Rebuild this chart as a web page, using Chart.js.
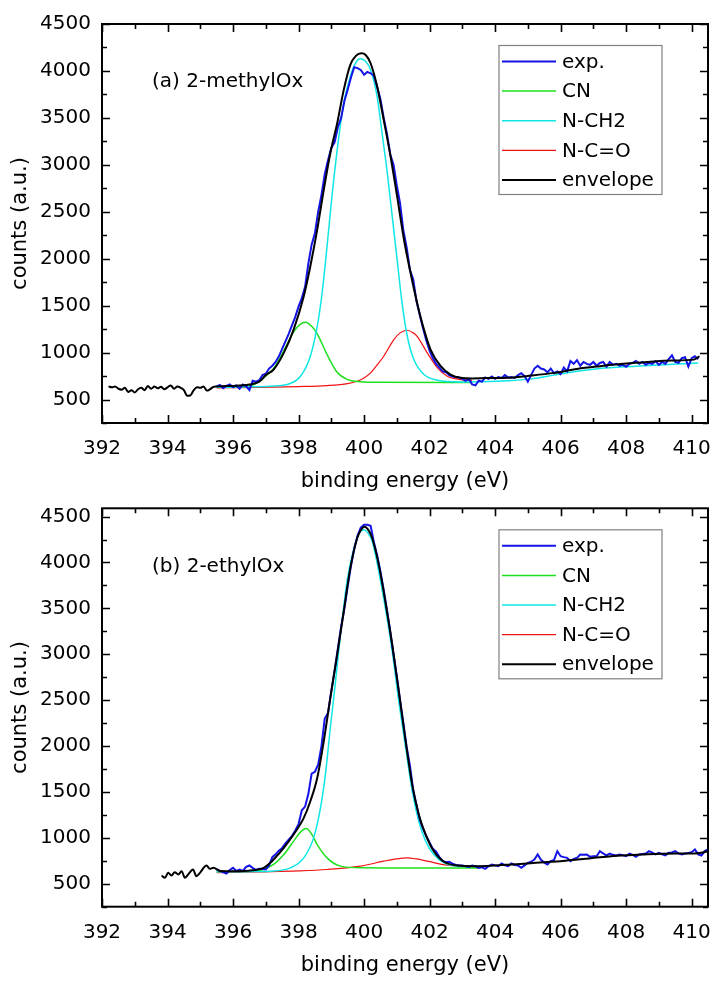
<!DOCTYPE html>
<html>
<head>
<meta charset="utf-8">
<script src="https://cdn.jsdelivr.net/npm/chart.js@4.4.0/dist/chart.umd.min.js"></script>
<style>
html,body{margin:0;padding:0;background:#fff;}
#wrap{width:723px;height:989px;position:relative;overflow:hidden;}
canvas{display:block;}
</style>
</head>
<body>
<div id="wrap">
<canvas id="cA" width="723" height="494" style="width:723px;height:494px"></canvas>
<canvas id="cB" width="723" height="495" style="width:723px;height:495px"></canvas>
</div>
<script>
// ---------- axis ticks ----------
const xTicks = [392, 394, 396, 398, 400, 402, 404, 406, 408, 410];
const xMinorTicks = [393, 395, 397, 399, 401, 403, 405, 407, 409];
const yTicks = [500, 1000, 1500, 2000, 2500, 3000, 3500, 4000, 4500];
const yMinorTicks = [250, 750, 1250, 1750, 2250, 2750, 3250, 3750, 4250];
const legendLabels = ['exp.', 'CN', 'N-CH2', 'N-C=O', 'envelope'];
const panelLabels = ['(a) 2-methylOx', '(b) 2-ethylOx'];

// ---------- panel (a) 2-methylOx ----------
const expA_start = 395.5, expA_step = 0.1;
const expA_counts = [
  640,655,620,645,660,630,650,615,660,640,
  600,700,690,705,760,775,830,860,900,960,
  1040,1120,1200,1290,1380,1490,1580,1700,1950,2150,
  2270,2500,2680,2900,3050,3180,3240,3400,3500,3680,
  3800,3930,4040,4030,4010,3960,3990,3975,3950,3830,
  3700,3500,3330,3110,3000,2780,2590,2300,2120,1880,
  1780,1550,1400,1260,1130,1020,940,880,840,800,
  790,760,745,740,735,720,700,720,660,650,
  700,690,735,720,745,720,740,730,760,735,
  740,730,760,780,750,690,760,830,860,830,
  820,790,830,780,800,770,840,800,910,880,
  920,860,900,880,870,900,860,890,900,850,
  900,870,880,860,870,850,880,890,910,880,
  900,870,890,880,910,870,900,880,930,970,
  900,890,940,950,850,940,960,930
];
const envA_E = [392.2,392.3,392.4,392.5,392.6,392.7,392.8,392.9,393.0,393.1,393.2,393.3,393.4,393.5,393.6,393.7,393.8,393.9,394.0,394.1,394.2,394.3,394.4,394.5,394.6,394.7,394.8,394.9,395.0,395.1,395.2,395.3,395.4,395.5,
  396.0,396.5,396.8,397.0,397.24,397.55,397.85,398.16,398.36,398.57,398.77,398.97,399.18,399.38,399.58,399.75,399.92,400.05,400.2,400.4,400.6,400.81,401.01,401.22,401.42,401.62,401.83,402.03,402.34,402.64,402.95,403.3,403.7,404.4,405.1,405.8,406.5,407.2,408.0,408.66,409.4,410.07,410.24];
const envA_C = [640,630,640,615,605,625,580,600,575,610,625,600,645,615,640,620,635,610,630,650,615,640,625,600,540,545,600,630,625,640,595,610,635,640,
  645,660,690,760,820,997,1245,1600,1919,2309,2734,3124,3443,3798,4064,4160,4188,4170,4082,3834,3479,3089,2663,2202,1848,1529,1245,1032,855,766,731,725,728,732,755,784,826,855,883,900,915,925,961];
const ch2A_E = [395.5,396.5,397.14,397.65,398.06,398.36,398.57,398.72,398.87,399.02,399.18,399.38,399.58,399.75,399.89,400.05,400.2,400.4,400.55,400.71,400.86,401.01,401.16,401.32,401.52,401.83,402.24,402.95,403.5,404.4,405.1,405.8,406.5,407.2,408.0,408.7,409.4,410.2];
const ch2A_C = [630,635,642,660,748,961,1280,1635,2131,2663,3160,3656,3940,4090,4130,4100,4011,3727,3337,2912,2451,1990,1529,1174,926,766,706,688,690,700,720,760,800,830,850,862,875,890];
const cnA_E = [395.5,396.5,396.8,397.0,397.24,397.55,397.85,398.05,398.21,398.4,398.57,398.87,399.18,399.48,399.89,400.5,403.3];
const cnA_C = [630,645,690,750,830,1020,1220,1300,1323,1280,1200,980,790,715,690,684,682];
const ncoA_E = [395.5,396.83,398.0,398.87,399.5,399.79,400.0,400.2,400.4,400.6,400.91,401.1,401.32,401.5,401.62,401.93,402.24,402.54,402.95,403.3];
const ncoA_C = [625,630,638,649,670,695,730,784,870,961,1139,1210,1238,1210,1174,997,837,748,713,705];

// ---------- panel (b) 2-ethylOx ----------
const expB_start = 395.5, expB_step = 0.1;
const expB_counts = [
  660,640,625,612,650,673,640,655,640,684,
  699,673,650,663,660,655,700,790,820,860,
  890,940,980,1020,1080,1150,1300,1340,1480,1700,
  1720,1800,2000,2300,2360,2600,2820,3060,3300,3500,
  3740,3960,4150,4290,4380,4410,4410,4400,4220,4080,
  3900,3700,3480,3250,3000,2760,2500,2250,1990,1790,
  1520,1360,1200,1100,1020,950,880,850,790,750,
  735,740,720,705,700,699,690,684,699,690,
  673,680,663,690,710,700,692,721,700,692,
  721,705,699,673,700,728,740,764,819,760,
  730,710,746,760,855,800,790,782,746,770,
  782,819,815,819,793,800,800,855,830,808,
  829,815,808,819,810,800,829,815,793,819,
  825,829,855,840,819,837,820,808,837,840,
  855,830,819,829,835,844,873,820,808,855,
  873
];
const envB_E = [393.82,393.92,394.02,394.12,394.22,394.33,394.43,394.53,394.63,394.78,394.88,394.99,395.19,395.29,395.4,395.6,396.0,396.6,396.94,397.14,397.24,397.55,397.85,398.16,398.36,398.57,398.77,398.97,399.18,399.38,399.58,399.79,399.9,400.01,400.12,400.25,400.45,400.65,400.86,401.06,401.27,401.47,401.67,401.88,402.13,402.44,402.95,403.46,403.97,404.48,404.99,405.5,406.0,406.52,407.03,407.54,408.05,408.55,409.06,409.57,410.08,410.29,410.5];
const envB_C = [590,565,619,590,626,601,637,565,601,655,583,619,699,663,673,640,637,648,673,728,764,891,1036,1217,1399,1653,2052,2523,2995,3466,3938,4264,4350,4390,4360,4264,3974,3575,3104,2596,2052,1580,1254,1036,855,740,697,692,699,710,721,735,746,764,782,800,811,819,826,829,829,837,855];
const ch2B_E = [395.5,396.5,397.14,397.75,398.16,398.46,398.67,398.82,398.97,399.13,399.28,399.48,399.69,399.85,399.99,400.12,400.25,400.45,400.65,400.86,401.06,401.27,401.47,401.67,401.88,402.13,402.44,402.95,403.5,403.8];
const ch2B_C = [630,632,637,673,782,1000,1326,1689,2197,2705,3212,3793,4155,4320,4355,4320,4228,3901,3502,3031,2487,1979,1508,1181,964,818,728,690,688,690];
const cnB_E = [395.5,396.5,396.83,397.24,397.55,397.85,398.05,398.24,398.4,398.57,398.87,399.28,399.89,401.0,403.5];
const cnB_C = [632,636,645,710,818,964,1060,1101,1040,927,782,692,673,672,672];
const ncoB_E = [395.5,396.83,398.0,398.87,399.89,400.6,401.0,401.32,401.6,401.93,402.54,402.95,403.5];
const ncoB_C = [620,630,640,655,692,746,772,782,770,746,702,692,685];

// ---------- helpers ----------
const FONT = 'DejaVu Sans';
function pairs(E, C) { return E.map((e, i) => ({x: e, y: C[i]})); }
function gridPairs(start, step, C) { return C.map((c, i) => ({x: +(start + i * step).toFixed(2), y: c})); }

const COLORS = {exp: '#1414e6', cn: '#1ee11e', ch2: '#10e6e6', nco: '#f01414', env: '#000000'};

function makeDatasets(exp, cn, ch2, nco, env) {
  return [
    {label: legendLabels[0], data: exp, borderColor: COLORS.exp, borderWidth: 2, tension: 0, order: 1},
    {label: legendLabels[1], data: cn, borderColor: COLORS.cn, borderWidth: 1.5, cubicInterpolationMode: 'monotone', order: 3},
    {label: legendLabels[2], data: ch2, borderColor: COLORS.ch2, borderWidth: 1.5, cubicInterpolationMode: 'monotone', order: 2},
    {label: legendLabels[3], data: nco, borderColor: COLORS.nco, borderWidth: 1.2, cubicInterpolationMode: 'monotone', order: 4},
    {label: legendLabels[4], data: env, borderColor: COLORS.env, borderWidth: 2, cubicInterpolationMode: 'monotone', order: 0}
  ].map(d => Object.assign({pointRadius: 0, fill: false, parsing: false}, d));
}

const frameTicks = {
  id: 'frameTicks',
  afterDatasetsDraw(chart) {
    const {ctx, chartArea: a} = chart;
    const xs = chart.scales.x, ys = chart.scales.y;
    ctx.save();
    ctx.strokeStyle = '#000';
    ctx.lineWidth = 1.6;
    ctx.beginPath();
    const vx = (list, len) => list.forEach(v => {
      if (v < xs.min || v > xs.max) return;
      const p = Math.round(xs.getPixelForValue(v)) + 0.5;
      ctx.moveTo(p, a.bottom); ctx.lineTo(p, a.bottom - len);
      ctx.moveTo(p, a.top); ctx.lineTo(p, a.top + len);
    });
    const vy = (list, len) => list.forEach(v => {
      if (v < ys.min || v > ys.max) return;
      const p = Math.round(ys.getPixelForValue(v)) + 0.5;
      ctx.moveTo(a.left, p); ctx.lineTo(a.left + len, p);
      ctx.moveTo(a.right, p); ctx.lineTo(a.right - len, p);
    });
    vx(xTicks, 8); vx(xMinorTicks, 5);
    vy(yTicks, 8); vy(yMinorTicks, 5);
    ctx.stroke();
    ctx.lineWidth = 2;
    ctx.strokeRect(a.left, a.top, a.right - a.left, a.bottom - a.top);
    ctx.restore();
  }
};

const boxLegend = {
  id: 'boxLegend',
  afterDraw(chart, args, opts) {
    const {ctx, chartArea: a} = chart;
    const w = 163, h = 149;
    const bx = a.right - 46 - w, by = a.top + 21.5;
    ctx.save();
    ctx.strokeStyle = '#808080';
    ctx.lineWidth = 1.2;
    ctx.strokeRect(bx, by, w, h);
    ctx.font = '20px "' + FONT + '"';
    ctx.textBaseline = 'middle';
    ctx.fillStyle = '#000';
    legendLabels.forEach((lab, i) => {
      const ds = chart.data.datasets.find(d => d.label === lab);
      const y = by + 16 + i * 29.6;
      ctx.strokeStyle = ds.borderColor;
      ctx.lineWidth = ds.borderWidth;
      ctx.beginPath(); ctx.moveTo(bx + 3, y); ctx.lineTo(bx + 57, y); ctx.stroke();
      ctx.fillText(lab, bx + 63, y + 1);
    });
    // panel label
    ctx.textBaseline = 'middle';
    ctx.fillText(opts.text, a.left + 50, a.top + 58);
    ctx.restore();
  }
};

function makeChart(id, datasets, cfg) {
  const font = {family: FONT, size: 20};
  const tfont = {family: FONT, size: 21};
  return new Chart(document.getElementById(id), {
    type: 'line',
    data: {datasets},
    options: {
      responsive: false, animation: false, devicePixelRatio: 1,
      layout: {padding: {top: cfg.padTop, right: 15, left: 0, bottom: 0}},
      plugins: {legend: {display: false}, tooltip: {enabled: false}, boxLegend: {text: cfg.label}},
      scales: {
        x: {
          type: 'linear', min: 392, max: 410.5,
          grid: {display: false, drawTicks: false, tickLength: 0},
          border: {display: false},
          afterBuildTicks: s => { s.ticks = xTicks.map(v => ({value: v})); },
          afterFit: s => { s.height = cfg.xH; s.paddingLeft = 0; s.paddingRight = 0; },
          ticks: {color: '#000', font, padding: 14, maxRotation: 0, autoSkip: false, callback: v => String(v)},
          title: {display: true, text: 'binding energy (eV)', color: '#000', font: tfont, padding: {top: 0, bottom: cfg.xTitlePad}}
        },
        y: {
          type: 'linear', min: 250, max: cfg.yMax,
          grid: {display: false, drawTicks: false, tickLength: 0},
          border: {display: false},
          afterBuildTicks: s => { s.ticks = yTicks.map(v => ({value: v})); },
          afterFit: s => { s.width = 102; s.paddingTop = 0; s.paddingBottom = 0; },
          ticks: {color: '#000', font, padding: 11, autoSkip: false, callback: v => String(v)},
          title: {display: true, text: 'counts (a.u.)', color: '#000', font: tfont, padding: {top: 8.4, bottom: 0}}
        }
      }
    },
    plugins: [frameTicks, boxLegend]
  });
}

makeChart('cA',
  makeDatasets(gridPairs(expA_start, expA_step, expA_counts), pairs(cnA_E, cnA_C), pairs(ch2A_E, ch2A_C), pairs(ncoA_E, ncoA_C), pairs(envA_E, envA_C)),
  {padTop: 24, xH: 71, xTitlePad: 0, yMax: 4500, label: panelLabels[0]});
makeChart('cB',
  makeDatasets(gridPairs(expB_start, expB_step, expB_counts), pairs(cnB_E, cnB_C), pairs(ch2B_E, ch2B_C), pairs(ncoB_E, ncoB_C), pairs(envB_E, envB_C)),
  {padTop: 14.3, xH: 82.3, xTitlePad: 10.4, yMax: 4590, label: panelLabels[1]});
</script>
</body>
</html>
